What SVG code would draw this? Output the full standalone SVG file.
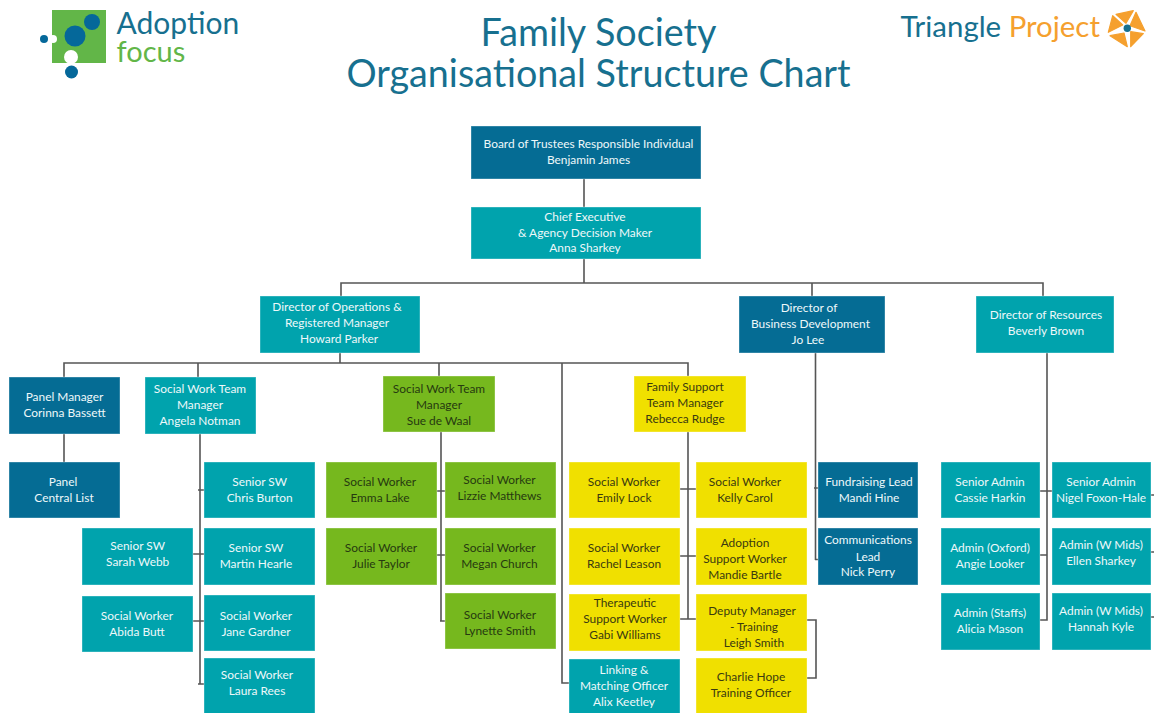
<svg xmlns="http://www.w3.org/2000/svg" width="1154" height="713" viewBox="0 0 1154 713">
<style>
text{font-family:Lato,"Open Sans",sans-serif;font-size:11.9px;text-anchor:middle}
.b text{transform:translateY(-.7px)}
.b rect{stroke-width:1;stroke-opacity:.35;stroke:#fff}
.db rect{fill:#056c94}.db text,.te text{fill:#eef8fa}
.te rect{fill:#00a3ad}
.gr rect{fill:#76b81e}.gr text{fill:#263a10}
.ye rect{fill:#f0e000}.ye text{fill:#3a3a10}
#connectors path{fill:none;stroke:#555;stroke-width:1.6}
.title{font-size:37.700px;fill:#17708f}
.logo{font-size:30px;text-anchor:start}
.logo3{font-size:29px;text-anchor:start}
.logo2{font-size:29.400px;text-anchor:start}
</style>
<rect width="1154" height="713" fill="#fff"/>
<g id="logo-adoption">
<rect x="52" y="10" width="54" height="53" fill="#62b648"/>
<circle cx="92" cy="22" r="8" fill="#05689a"/>
<circle cx="75" cy="36" r="10.500" fill="#05689a"/>
<circle cx="71" cy="57" r="7" fill="#fff"/>
<circle cx="71.500" cy="72" r="6.500" fill="#05689a"/>
<circle cx="53" cy="39" r="4" fill="#fff"/>
<circle cx="44" cy="39" r="4" fill="#05689a"/>
<text class="logo" x="116.500" y="33.500" fill="#17708f">Adoption</text>
<text class="logo3" x="116.500" y="62" fill="#62b648">focus</text>
</g>
<g id="logo-triangle">
<text class="logo2" x="900.500" y="37" fill="#17708f">Triangle <tspan fill="#f5a02e">Project</tspan></text>
<g fill="#f5a02e" stroke="#f5a02e" stroke-width="1.200" stroke-linejoin="round">
<polygon points="1112.700,15.700 1122.700,25 1108.300,32.300"/>
<polygon points="1110,35.700 1124,33 1127.300,46.700"/>
<polygon points="1130.700,31.700 1143.300,33.700 1130.700,46.700"/>
<polygon points="1136,12.300 1145,31 1130,25.700"/>
<polygon points="1116,14.300 1133.300,10.700 1126,23.300"/>
</g>
<circle cx="1127.300" cy="28.300" r="3.700" fill="#17708f"/>
</g>
<g id="title">
<text class="title" x="598.500" y="46">Family Society</text>
<text class="title" x="598.500" y="87">Organisational Structure Chart</text>
</g>
<g id="connectors">
<path d="M584 179V207M584 259V283M341 296V283H1043V296M812 283V296"/>
<path d="M340 353V363M64 377V363H688V376M198 363V377M439 363V376M562 363V683H569"/>
<path d="M64 434V462"/>
<path d="M200 434V684M198 490H204M193 554H204M193 621H204M198 684H204"/>
<path d="M441 432V621H440M437 491H445M437 555H445M440 621H445"/>
<path d="M688 432V619M680 489H696M680 556H696M680 619H696M807 620H816V678H807"/>
<path d="M815.500 353V560M814 488H818M815 559.500H818"/>
<path d="M1047 353V620H1040M1040 491H1052M1040 555H1047M1151 495H1154M1151 552H1154M1151 617H1154"/>
</g>
<g class="b db" id="board"><rect x="471" y="126" width="230" height="53"/><text x="588.500" y="149">Board of Trustees Responsible Individual</text><text x="588.500" y="164.500">Benjamin James</text></g>
<g class="b te" id="ceo"><rect x="471" y="207" width="230" height="52"/><text x="585" y="221.500">Chief Executive</text><text x="585" y="237.500">&amp; Agency Decision Maker</text><text x="585" y="253">Anna Sharkey</text></g>
<g class="b te" id="dir-ops"><rect x="260" y="296" width="160" height="57"/><text x="337" y="311.500">Director of Operations &amp;</text><text x="337" y="327.500">Registered Manager</text><text x="339" y="343.500">Howard Parker</text></g>
<g class="b db" id="dir-bd"><rect x="739" y="296" width="146" height="57"/><text x="809" y="313">Director of</text><text x="810.500" y="329">Business Development</text><text x="808" y="345">Jo Lee</text></g>
<g class="b te" id="dir-res"><rect x="976" y="296" width="138" height="57"/><text x="1046" y="319.500">Director of Resources</text><text x="1046" y="335.500">Beverly Brown</text></g>
<g class="b db" id="panel-manager"><rect x="9" y="377" width="111" height="57"/><text x="64.500" y="401.500">Panel Manager</text><text x="64.500" y="417.500">Corinna Bassett</text></g>
<g class="b te" id="swtm-angela"><rect x="145" y="377" width="111" height="57"/><text x="200" y="393.500">Social Work Team</text><text x="200" y="410">Manager</text><text x="200" y="426">Angela Notman</text></g>
<g class="b gr" id="swtm-sue"><rect x="383" y="376" width="112" height="56"/><text x="439" y="393.500">Social Work Team</text><text x="439" y="410">Manager</text><text x="439" y="426">Sue de Waal</text></g>
<g class="b ye" id="fstm"><rect x="634" y="376" width="112" height="56"/><text x="685" y="392">Family Support</text><text x="685" y="407.500">Team Manager</text><text x="685" y="424">Rebecca Rudge</text></g>
<g class="b db" id="panel"><rect x="9" y="462" width="111" height="56"/><text x="63" y="486.500">Panel</text><text x="64" y="502.500">Central List</text></g>
<g class="b te" id="chris"><rect x="204" y="462" width="111" height="56"/><text x="259.700" y="486.500">Senior SW</text><text x="259.700" y="502.500">Chris Burton</text></g>
<g class="b te" id="sarah"><rect x="82" y="528" width="111" height="57"/><text x="137.700" y="551">Senior SW</text><text x="137.700" y="567">Sarah Webb</text></g>
<g class="b te" id="martin"><rect x="204" y="528" width="111" height="57"/><text x="256" y="552.500">Senior SW</text><text x="256" y="568.500">Martin Hearle</text></g>
<g class="b te" id="abida"><rect x="82" y="596" width="111" height="56"/><text x="137" y="620.500">Social Worker</text><text x="137" y="636.500">Abida Butt</text></g>
<g class="b te" id="jane"><rect x="204" y="595" width="111" height="56"/><text x="256" y="620.500">Social Worker</text><text x="256" y="636.500">Jane Gardner</text></g>
<g class="b te" id="laura"><rect x="204" y="658" width="111" height="60"/><text x="257" y="679.500">Social Worker</text><text x="257" y="696">Laura Rees</text></g>
<g class="b gr" id="emma"><rect x="326" y="462" width="111" height="56"/><text x="380" y="486.500">Social Worker</text><text x="380" y="502.500">Emma Lake</text></g>
<g class="b gr" id="lizzie"><rect x="445" y="462" width="111" height="56"/><text x="499.500" y="485">Social Worker</text><text x="499.500" y="501">Lizzie Matthews</text></g>
<g class="b gr" id="julie"><rect x="326" y="528" width="111" height="57"/><text x="381" y="552.500">Social Worker</text><text x="381" y="568.500">Julie Taylor</text></g>
<g class="b gr" id="megan"><rect x="445" y="528" width="111" height="57"/><text x="499.500" y="552.500">Social Worker</text><text x="499.500" y="568.500">Megan Church</text></g>
<g class="b gr" id="lynette"><rect x="445" y="593" width="111" height="56"/><text x="500" y="619.500">Social Worker</text><text x="500" y="635.500">Lynette Smith</text></g>
<g class="b ye" id="emily"><rect x="569" y="462" width="111" height="56"/><text x="624" y="486.500">Social Worker</text><text x="624" y="502.500">Emily Lock</text></g>
<g class="b ye" id="rachel"><rect x="569" y="528" width="111" height="57"/><text x="624" y="552.500">Social Worker</text><text x="624" y="568.500">Rachel Leason</text></g>
<g class="b ye" id="gabi"><rect x="569" y="594" width="111" height="57"/><text x="625" y="608">Therapeutic</text><text x="625" y="624">Support Worker</text><text x="625" y="640">Gabi Williams</text></g>
<g class="b te" id="linking"><rect x="569" y="659" width="111" height="60"/><text x="624" y="674.500">Linking &amp;</text><text x="624" y="690.500">Matching Officer</text><text x="624" y="706.500">Alix Keetley</text></g>
<g class="b ye" id="kelly"><rect x="696" y="462" width="111" height="56"/><text x="745" y="486.500">Social Worker</text><text x="745" y="502.500">Kelly Carol</text></g>
<g class="b ye" id="mandie"><rect x="696" y="528" width="111" height="57"/><text x="745" y="548">Adoption</text><text x="745" y="563.500">Support Worker</text><text x="745" y="580">Mandie Bartle</text></g>
<g class="b ye" id="leigh"><rect x="696" y="594" width="111" height="57"/><text x="752" y="616">Deputy Manager</text><text x="754" y="631.500">- Training</text><text x="754" y="648">Leigh Smith</text></g>
<g class="b ye" id="charlie"><rect x="696" y="658" width="111" height="60"/><text x="751" y="682">Charlie Hope</text><text x="751" y="698">Training Officer</text></g>
<g class="b db" id="mandi"><rect x="818" y="462" width="100" height="56"/><text x="869" y="486.500">Fundraising Lead</text><text x="869" y="502.500">Mandi Hine</text></g>
<g class="b db" id="nick"><rect x="818" y="528" width="100" height="57"/><text x="868" y="545">Communications</text><text x="868" y="561.500">Lead</text><text x="868" y="577">Nick Perry</text></g>
<g class="b te" id="cassie"><rect x="941" y="462" width="99" height="56"/><text x="990" y="486.500">Senior Admin</text><text x="990" y="502.500">Cassie Harkin</text></g>
<g class="b te" id="nigel"><rect x="1052" y="462" width="99" height="56"/><text x="1101" y="486.500">Senior Admin</text><text x="1101" y="502.500">Nigel Foxon-Hale</text></g>
<g class="b te" id="angie"><rect x="941" y="528" width="99" height="57"/><text x="990" y="552.500">Admin (Oxford)</text><text x="990" y="568.500">Angie Looker</text></g>
<g class="b te" id="ellen"><rect x="1052" y="528" width="99" height="57"/><text x="1101" y="550">Admin (W Mids)</text><text x="1101" y="566">Ellen Sharkey</text></g>
<g class="b te" id="alicia"><rect x="941" y="593" width="99" height="57"/><text x="990" y="617.500">Admin (Staffs)</text><text x="990" y="634">Alicia Mason</text></g>
<g class="b te" id="hannah"><rect x="1052" y="593" width="99" height="57"/><text x="1101" y="615.500">Admin (W Mids)</text><text x="1101" y="631.500">Hannah Kyle</text></g>
</svg>
